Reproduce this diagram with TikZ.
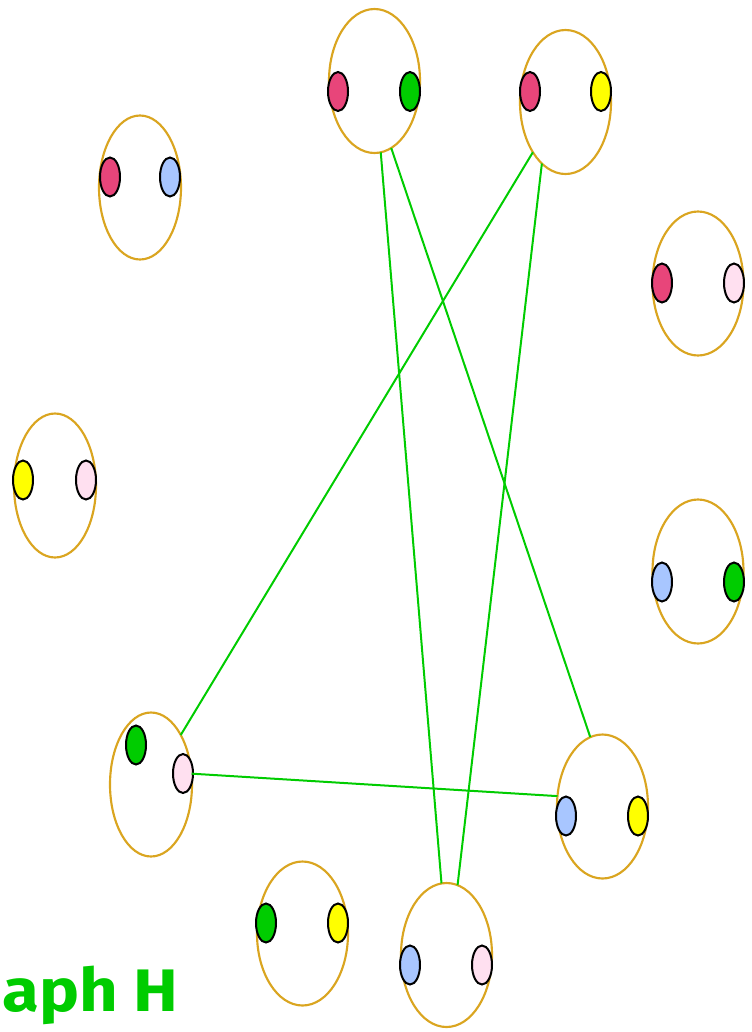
\documentclass[tikz,border=0pt]{standalone}
\usepackage{fontspec}
\newfontfamily\graphfont{Fira Sans}
\usetikzlibrary{shapes.geometric}

\definecolor{gold}{RGB}{218,165,32}
\definecolor{edgegreen}{RGB}{0,204,0}
\definecolor{dotred}{RGB}{232,69,122}
\definecolor{dotgreen}{RGB}{0,204,0}
\definecolor{dotyellow}{RGB}{255,255,0}
\definecolor{dotblue}{RGB}{168,198,255}
\definecolor{dotpink}{RGB}{255,224,240}

\begin{document}
\begin{tikzpicture}[
        x=0.75pt, y=-0.75pt,
        vertex/.style={ellipse, draw=gold, line width=1.6pt, minimum width=68.25pt, minimum height=108pt, inner sep=0pt, outer sep=0pt},
        thin vertex/.style={vertex, minimum width=61.5pt},
        dot/.style={ellipse, draw=black, line width=1.5pt, fill=#1, minimum width=15pt, minimum height=29.25pt, inner sep=0pt, outer sep=0pt},
        edge/.style={draw=edgegreen, line width=1.5pt}
        ]
        \useasboundingbox (0,0) rectangle (752,1032);

        % outer vertices
        \node[vertex] (topmid) at (374.5,81) {};
        \node[vertex] (topright) at (565.5,102) {};
        \node[thin vertex] (upleft) at (140,187.5) {};
        \node[vertex] (upright) at (698,283.5) {};
        \node[thin vertex] (midleft) at (55,485.5) {};
        \node[vertex] (midright) at (698,571.5) {};
        \node[thin vertex] (lowleft) at (151,784.5) {};
        \node[vertex] (lowright) at (602.5,806.5) {};
        \node[vertex] (botleft) at (302.5,933.5) {};
        \node[vertex] (botmid) at (446.5,955) {};

        % coloured dots
        \node[dot=dotred] (topmid-a) at (338,91.5) {};
        \node[dot=dotgreen] (topmid-b) at (410,91.5) {};
        \node[dot=dotred] (topright-a) at (530,91.5) {};
        \node[dot=dotyellow] (topright-b) at (601,91.5) {};
        \node[dot=dotred] (upleft-a) at (110,177) {};
        \node[dot=dotblue] (upleft-b) at (170,177) {};
        \node[dot=dotred] (upright-a) at (662,283) {};
        \node[dot=dotpink] (upright-b) at (734,283) {};
        \node[dot=dotyellow] (midleft-a) at (23,480) {};
        \node[dot=dotpink] (midleft-b) at (86,480) {};
        \node[dot=dotblue] (midright-a) at (662,582) {};
        \node[dot=dotgreen] (midright-b) at (734,582) {};
        \node[dot=dotgreen] (lowleft-a) at (136,745) {};
        \node[dot=dotpink] (lowleft-b) at (183,773.5) {};
        \node[dot=dotblue] (lowright-a) at (566,816) {};
        \node[dot=dotyellow] (lowright-b) at (638,816) {};
        \node[dot=dotgreen] (botleft-a) at (266,923) {};
        \node[dot=dotyellow] (botleft-b) at (338,923) {};
        \node[dot=dotblue] (botmid-a) at (410,965) {};
        \node[dot=dotpink] (botmid-b) at (482,965) {};

        % edges
        \draw[edge] (topmid.-85.6) -- (botmid.94.6);
        \draw[edge] (topmid.-76) -- (lowright.100);
        \draw[edge] (topright.-123.8) -- (lowleft.59.9);
        \draw[edge] (topright.-111) -- (botmid.81);
        \draw[edge] (lowleft.15) -- (lowright.167);

        \node[anchor=base west, inner sep=0pt, text=edgegreen, font=\graphfont\bfseries\fontsize{45}{54}\selectfont] (title) at (2,1011) {\scalebox{1.12}[1]{aph H}};
    \end{tikzpicture}
\end{document}
